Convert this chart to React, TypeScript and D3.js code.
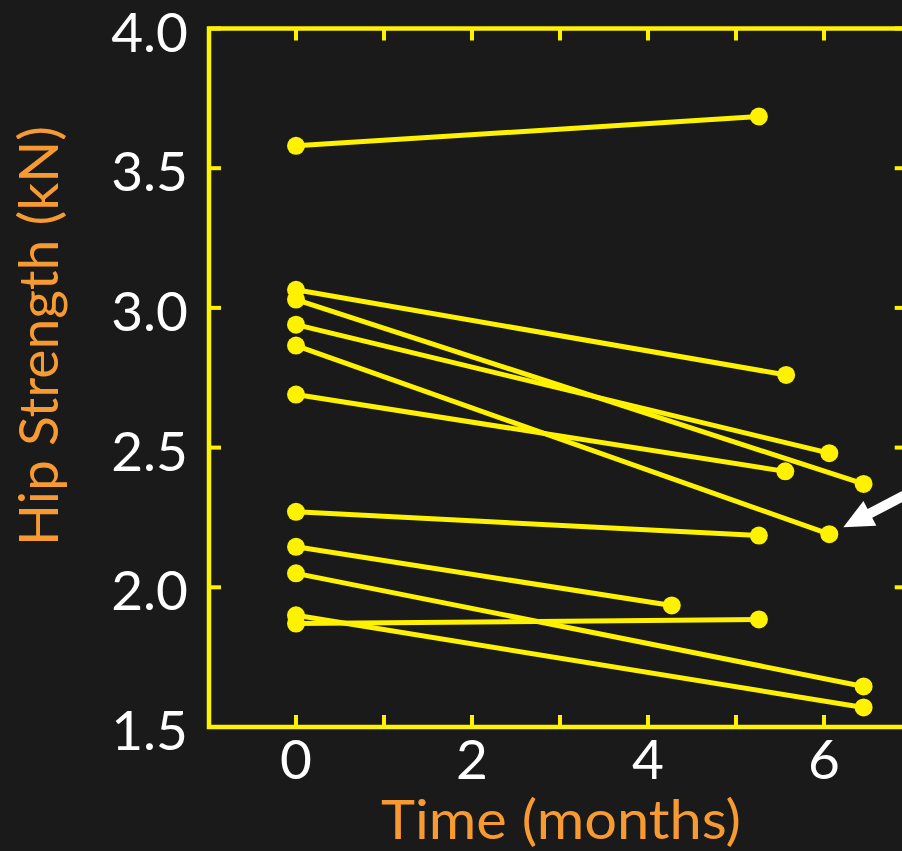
import React from "react";
import * as d3 from "d3";

// Each subject: baseline (month 0) and follow-up measurement
const baselineMonths = [0, 0, 0, 0, 0, 0, 0, 0, 0, 0, 0];
const baselineStrength = [3.58, 3.065, 3.03, 2.94, 2.865, 2.69, 2.27, 2.145, 2.05, 1.9, 1.87];
const followupMonths = [5.26, 5.57, 6.45, 6.06, 6.06, 5.56, 5.26, 4.27, 6.45, 6.45, 5.26];
const followupStrength = [3.685, 2.76, 2.37, 2.48, 2.19, 2.415, 2.185, 1.935, 1.645, 1.57, 1.885];

const xTicks = [0, 1, 2, 3, 4, 5, 6];
const xTickLabels = [0, 2, 4, 6];
const yTicks = [1.5, 2.0, 2.5, 3.0, 3.5, 4.0];

const annotatedIndex = 4;

const W = 902;
const H = 851;
const BG = "#1a1a1a";
const YELLOW = "#fff200";
const ORANGE = "#f79a32";
const FONT = "Lato, 'Open Sans', sans-serif";

export default function App() {
  const x = d3.scaleLinear().domain([0, 6]).range([296, 824]);
  const y = d3.scaleLinear().domain([1.5, 4]).range([727, 28.5]);
  const left = x(-1) + 1;
  const right = x(6.94);
  const top = y(4);
  const bottom = y(1.5);
  const tickLen = 12;

  const pairs = baselineStrength.map((b, i) => ({
    x0: baselineMonths[i],
    y0: b,
    x1: followupMonths[i],
    y1: followupStrength[i],
  }));

  const line = d3
    .line<[number, number]>()
    .x((d) => x(d[0]))
    .y((d) => y(d[1]));

  // arrow pointing at annotated subject's follow-up point
  const tx = x(followupMonths[annotatedIndex]) + 14;
  const ty = y(followupStrength[annotatedIndex]) - 7;
  const ang = Math.atan2(-13, 25);
  const ux = Math.cos(ang);
  const uy = Math.sin(ang);
  const px = -uy;
  const py = ux;
  const headLen = 30;
  const headHalf = 14;
  const shaftHalf = 5;
  const far = 200;
  const bx = tx + ux * headLen;
  const by = ty + uy * headLen;
  const arrowPts = [
    [tx, ty],
    [bx + px * headHalf, by + py * headHalf],
    [bx + px * shaftHalf, by + py * shaftHalf],
    [tx + ux * far + px * shaftHalf, ty + uy * far + py * shaftHalf],
    [tx + ux * far - px * shaftHalf, ty + uy * far - py * shaftHalf],
    [bx - px * shaftHalf, by - py * shaftHalf],
    [bx - px * headHalf, by - py * headHalf],
  ]
    .map((p) => p.join(","))
    .join(" ");

  return (
    <svg
      width={W}
      height={H}
      style={{ position: "fixed", left: 0, top: 0, display: "block" }}
    >
      <rect x={0} y={0} width={W} height={H} fill={BG} />

      {/* frame */}
      <rect
        x={left}
        y={top}
        width={right - left}
        height={bottom - top}
        fill="none"
        stroke={YELLOW}
        strokeWidth={4.5}
      />
      {/* x ticks top & bottom */}
      {xTicks.map((t) => (
        <g key={"xt" + t}>
          <line x1={x(t)} x2={x(t)} y1={bottom} y2={bottom - tickLen} stroke={YELLOW} strokeWidth={4} />
          <line x1={x(t)} x2={x(t)} y1={top} y2={top + tickLen} stroke={YELLOW} strokeWidth={4} />
        </g>
      ))}
      {/* y ticks left & right */}
      {yTicks.map((t) => (
        <g key={"yt" + t}>
          <line x1={left} x2={left + tickLen} y1={y(t)} y2={y(t)} stroke={YELLOW} strokeWidth={4} />
          <line x1={right} x2={right - tickLen} y1={y(t)} y2={y(t)} stroke={YELLOW} strokeWidth={4} />
        </g>
      ))}

      {/* tick labels */}
      {xTickLabels.map((t) => (
        <text
          key={"xl" + t}
          x={x(t)}
          y={779}
          textAnchor="middle"
          fill="#ffffff"
          fontFamily={FONT}
          fontSize={55}
        >
          {t}
        </text>
      ))}
      {yTicks.map((t) => (
        <text
          key={"yl" + t}
          x={188}
          y={y(t) + 23}
          textAnchor="end"
          fill="#ffffff"
          fontFamily={FONT}
          fontSize={55}
        >
          {t.toFixed(1)}
        </text>
      ))}

      {/* axis titles */}
      <text
        x={561}
        y={839}
        textAnchor="middle"
        fill={ORANGE}
        fontFamily={FONT}
        fontSize={55}
        textLength={360}
        lengthAdjust="spacingAndGlyphs"
      >
        Time (months)
      </text>
      <text
        transform={`translate(58,336) rotate(-90)`}
        textAnchor="middle"
        fill={ORANGE}
        fontFamily={FONT}
        fontSize={55}
        textLength={420}
        lengthAdjust="spacingAndGlyphs"
      >
        Hip Strength (kN)
      </text>

      {/* data */}
      {pairs.map((p, i) => (
        <g key={"p" + i}>
          <path
            d={line([
              [p.x0, p.y0],
              [p.x1, p.y1],
            ]) || ""}
            stroke={YELLOW}
            strokeWidth={5}
            fill="none"
          />
          <circle cx={x(p.x0)} cy={y(p.y0)} r={9} fill={YELLOW} />
          <circle cx={x(p.x1)} cy={y(p.y1)} r={9} fill={YELLOW} />
        </g>
      ))}

      {/* annotation arrow */}
      <polygon points={arrowPts} fill="#ffffff" />
    </svg>
  );
}
